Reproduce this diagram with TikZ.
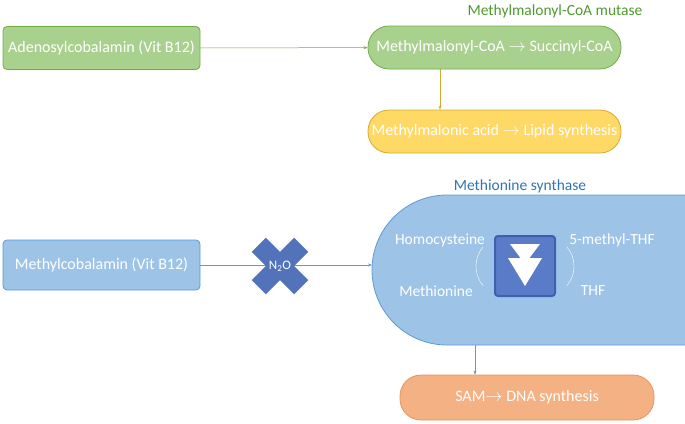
\documentclass[tikz,border=0pt]{standalone}
\usepackage{fontspec}
\setmainfont{Carlito}
\usetikzlibrary{arrows.meta,positioning}
\definecolor{grfill}{HTML}{A9D18E}
\definecolor{grline}{HTML}{70AD47}
\definecolor{grtext}{HTML}{4E9A2E}
\definecolor{ylfill}{HTML}{FFD966}
\definecolor{ylline}{HTML}{D6A92E}
\definecolor{blfill}{HTML}{9DC3E6}
\definecolor{blline}{HTML}{5B9BD5}
\definecolor{bltext}{HTML}{2E75B6}
\definecolor{sqfill}{HTML}{5A7BC8}
\definecolor{sqline}{HTML}{3F5FAF}
\definecolor{orfill}{HTML}{F4B183}
\definecolor{orline}{HTML}{E8935C}
\tikzset{
  box/.style={draw, line width=0.8pt, text=white, font=\fontsize{16}{18}\selectfont, minimum height=43pt, inner sep=0pt},
  pill/.style={box, rounded corners=21pt, minimum width=253pt},
  lbl/.style={font=\fontsize{15.5}{18}\selectfont},
  wt/.style={text=white, font=\fontsize{15.5}{18}\selectfont},
  conn/.style={-{Stealth[length=4pt,width=3pt]}, line width=0.5pt}
}
\begin{document}
\begin{tikzpicture}[x=1pt,y=-1pt]
\useasboundingbox (0,0) rectangle (685,423);
% top row
\node[box, fill=grfill, draw=grline, rounded corners=4pt, minimum width=197pt] (adeno) at (101.5,48) {Adenosylcobalamin (Vit B12)};
\node[pill, fill=grfill, draw=grline] (mmcoa) at (494.5,47.5) {Methylmalonyl-CoA $\rightarrow$ Succinyl-CoA};
\node[lbl, text=grtext] (mutase) at (555,11) {Methylmalonyl-CoA mutase};
\node[pill, fill=ylfill, draw=ylline] (mma) at (494.5,131.5) {Methylmalonic acid $\rightarrow$ Lipid synthesis};
\draw[conn, grline] (adeno) -- (mmcoa);
\draw[conn, ylline] (mmcoa.south -| 440,0) -- (mma.north -| 440,0);
% bottom row
\node[box, fill=blfill, draw=blline, rounded corners=4pt, minimum width=197pt, minimum height=50pt] (mecbl) at (101.5,265) {Methylcobalamin (Vit B12)};
\begin{scope}
\clip (0,0) rectangle (685,423);
\draw[blline, fill=blfill, line width=0.8pt, rounded corners=75pt] (372,195) rectangle (770,345);
\end{scope}
\coordinate (syn) at (372,265);
\coordinate (synbot) at (475,345);
\node[lbl, text=bltext] (synthase) at (520,186) {Methionine synthase};
\draw[conn, blline] (mecbl) -- (syn);
% N2O cross
\fill[sqline!80!blfill, rotate around={45:(280,266)}] (270,236) rectangle (290,296) (250,256) rectangle (310,276);
\node[wt, font=\fontsize{13}{14}\selectfont] (n2o) at (280,266) {N\textsubscript{2}O};
% inner square
\node[draw=sqline, fill=sqfill, line width=2pt, rounded corners=3pt, minimum width=60pt, minimum height=60pt] (sq) at (525,266) {};
\fill[white] (510,244) -- (540,244) -- (525,264) -- cycle;
\fill[white] (508,258) -- (542,258) -- (525,286) -- cycle;
\draw[white, line width=0.4pt] (483,247) arc[start angle=220, end angle=140, radius=30];
\draw[white, line width=0.4pt] (567,247) arc[start angle=-40, end angle=40, radius=30];
\node[wt] (hcy) at (440,240) {Homocysteine};
\node[wt] (met) at (436,291) {Methionine};
\node[wt] (mthf) at (612,240) {5-methyl-THF};
\node[wt] (thf) at (593,291) {THF};
\node[pill, fill=orfill, draw=orline, minimum width=254pt, minimum height=45pt] (sam) at (527,397.5) {SAM$\rightarrow$ DNA synthesis};
\draw[conn, blline] (synbot) -- (sam.north -| synbot);
\end{tikzpicture}
\end{document}
